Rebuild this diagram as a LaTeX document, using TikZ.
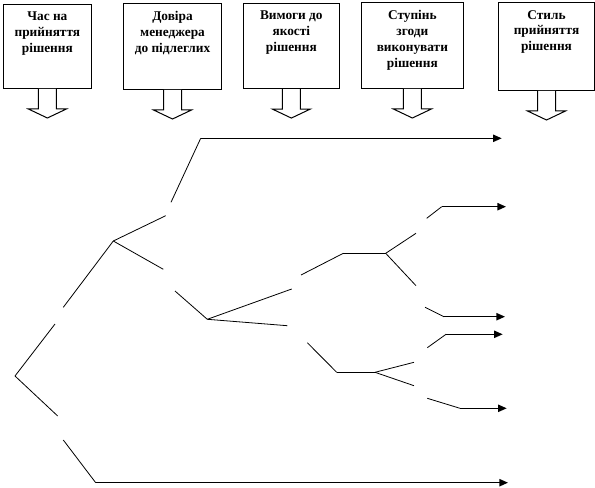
\documentclass[tikz,border=0pt]{standalone}
\usepackage{fontspec}
\setmainfont{Liberation Serif}
\usetikzlibrary{arrows.meta, positioning}

\begin{document}
\begin{tikzpicture}[
    x=0.75pt, y=-0.75pt, >={Triangle[length=6.5pt, width=5.5pt]},
    factor/.style={draw, line width=0.75pt, anchor=north west, inner sep=0pt},
    ftext/.style={anchor=north, align=center, inner sep=0pt,
      font=\fontsize{10}{11.9}\selectfont\bfseries},
    branch/.style={line width=0.6pt},
    outcome/.style={->, line width=1pt},
    downarr/.pic={\draw[line width=0.75pt, fill=white]
      (-9,0) -- (-9,20) -- (-19,20) -- (0,29) -- (19,20) -- (9,20) -- (9,0);}
  ]
  \useasboundingbox (0,0) rectangle (595,488);
  % factor boxes
  \node[factor, minimum width=65.8pt, minimum height=63pt] (time) at (3,4) {};
  \node[factor, minimum width=73.5pt, minimum height=64.5pt] (trust) at (123,3) {};
  \node[factor, minimum width=72.2pt, minimum height=63.8pt] (quality) at (242.7,3) {};
  \node[factor, minimum width=76.3pt, minimum height=64.5pt] (agree) at (361,2) {};
  \node[factor, minimum width=72pt, minimum height=66pt] (style) at (498,2) {};
  \node[ftext, below=6pt of time.north] (timetxt) {Час на\\прийняття\\рішення};
  \node[ftext, below=6pt of trust.north] (trusttxt) {Довіра\\менеджера\\до підлеглих};
  \node[ftext, below=6pt of quality.north] (qualitytxt) {Вимоги до\\якості\\рішення};
  \node[ftext, below=6pt of agree.north] (agreetxt) {Ступінь\\згоди\\виконувати\\рішення};
  \node[ftext, below=6pt of style.north] (styletxt) {Стиль\\прийняття\\рішення};
  \foreach \f in {time, trust, quality, agree, style}
    \pic at (\f.south) {downarr};

  % decision tree
  \coordinate (root) at (15,376);
  \coordinate (tr) at (113.3,241);
  \coordinate (qu) at (207.3,319.3);
  \coordinate (agA) at (385.7,253.3);
  \coordinate (agB) at (375,372.3);
  \coordinate (r1) at (55,324);       \coordinate (r1e) at (63.3,307.3);
  \coordinate (r2) at (57.7,416);     \coordinate (r2e) at (63.3,440);
  \coordinate (t1) at (165.7,215.7);  \coordinate (t1e) at (171,202.3);
  \coordinate (t2) at (163.3,269.3);  \coordinate (t2e) at (175,291);
  \coordinate (q1) at (291.7,289);    \coordinate (q1e) at (301,275);
  \coordinate (q2) at (287.3,325.7);  \coordinate (q2e) at (307.3,342.7);
  \coordinate (a1) at (416,233.3);    \coordinate (a1e) at (426.7,218.3);
  \coordinate (a2) at (416,285.7);    \coordinate (a2e) at (425,307.3);
  \coordinate (b1) at (414,362.3);    \coordinate (b1e) at (427.3,347.7);
  \coordinate (b2) at (414,385.7);    \coordinate (b2e) at (427.3,398.3);
  % bends and outcomes
  \coordinate (k1) at (200.7,138.3);  \coordinate (out1) at (501.7,138.3);
  \coordinate (k2) at (441.7,206.7);  \coordinate (out2) at (506,206.7);
  \coordinate (k3) at (444,316.7);    \coordinate (out3) at (505,316.7);
  \coordinate (k4) at (446,334.3);    \coordinate (out4) at (502.7,334.3);
  \coordinate (k5) at (460,408.3);    \coordinate (out5) at (506.7,408.3);
  \coordinate (k6) at (95.7,482.7);   \coordinate (out6) at (508,482.7);
  \coordinate (kq) at (343.3,253.3);
  \coordinate (kb) at (336.7,372.3);

  \foreach \a/\b/\c/\d in {root/r1/r1e/tr, root/r2/r2e/k6, tr/t1/t1e/k1,
      tr/t2/t2e/qu, qu/q1/q1e/kq, qu/q2/q2e/kb, agA/a1/a1e/k2,
      agA/a2/a2e/k3, agB/b1/b1e/k4, agB/b2/b2e/k5}
    \draw[branch] (\a) -- (\b) (\c) -- (\d);
  \draw[branch] (kq) -- (agA);
  \draw[branch] (kb) -- (agB);
  \foreach \k/\o in {k1/out1, k2/out2, k3/out3, k4/out4, k5/out5, k6/out6}
    \draw[outcome] (\k) -- (\o);
\end{tikzpicture}
\end{document}
